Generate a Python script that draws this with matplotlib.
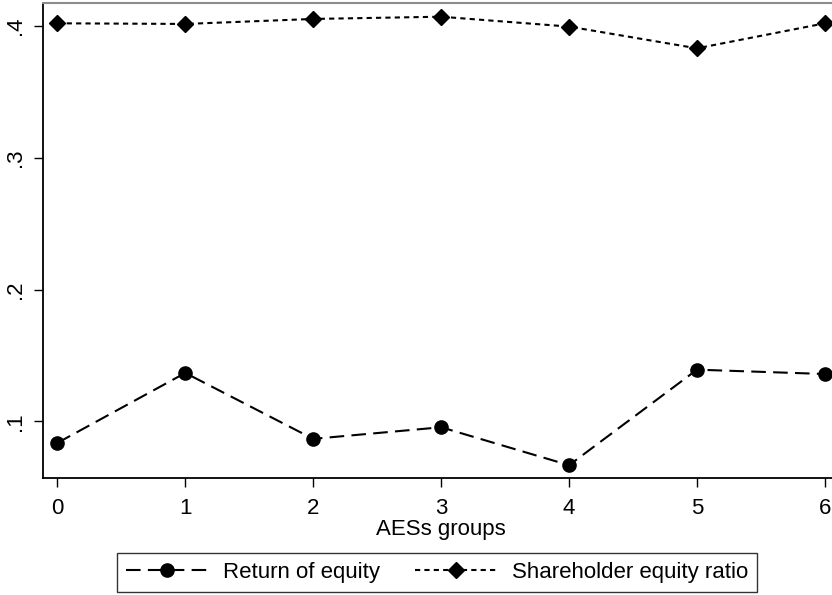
import matplotlib
matplotlib.use("Agg")
import matplotlib.pyplot as plt

plt.rcParams['font.family'] = ['Liberation Sans', 'DejaVu Sans']

groups = [0, 1, 2, 3, 4, 5, 6]
return_of_equity = [0.0836, 0.1367, 0.0867, 0.0955, 0.0667, 0.1392, 0.1359]
shareholder_equity_ratio = [0.4020, 0.4015, 0.4053, 0.4070, 0.3995, 0.3830, 0.4020]
y_ticks = [0.1, 0.2, 0.3, 0.4]
y_tick_labels = ['.1', '.2', '.3', '.4']

W, H = 832, 595
fig = plt.figure(figsize=(W / 100, H / 100), dpi=100)
ax = fig.add_axes([43 / W, 1 - 478 / H, (839 - 43) / W, (478 - 3) / H])

ax.plot(groups, return_of_equity, color='black', lw=1.5,
        dashes=(7, 3.5), marker='o', markersize=9.5,
        label='Return of equity')
ax.plot(groups, shareholder_equity_ratio, color='black', lw=1.5,
        dashes=(2.5, 2), marker='D', markersize=8.5,
        label='Shareholder equity ratio')

ax.set_xlim(-0.112, 6.11)
ax.set_ylim(0.0570, 0.4174)
ax.set_xticks(groups)
ax.set_yticks(y_ticks)
ax.set_yticklabels(y_tick_labels, rotation=90, va='center')
ax.tick_params(labelsize=16, length=6.5, width=1, direction='out')
ax.tick_params(axis='x', pad=8)
ax.tick_params(axis='y', pad=6)

for side in ('left', 'bottom'):
    ax.spines[side].set_linewidth(1.3)
ax.spines['right'].set_visible(False)
ax.spines['top'].set_color('#8c8c8c')
ax.spines['top'].set_linewidth(1.5)

ax.set_xlabel('AESs groups', fontsize=16, labelpad=0)

leg = fig.legend(loc='upper left', bbox_to_anchor=(117 / W, 1 - 553 / H),
                 ncol=2, fontsize=16, frameon=True, fancybox=False,
                 edgecolor='black', handlelength=3.7, columnspacing=1.55,
                 handletextpad=0.68, borderpad=0.4, borderaxespad=0)
leg.get_frame().set_linewidth(1.0)

fig.savefig('out.png', dpi=100)
